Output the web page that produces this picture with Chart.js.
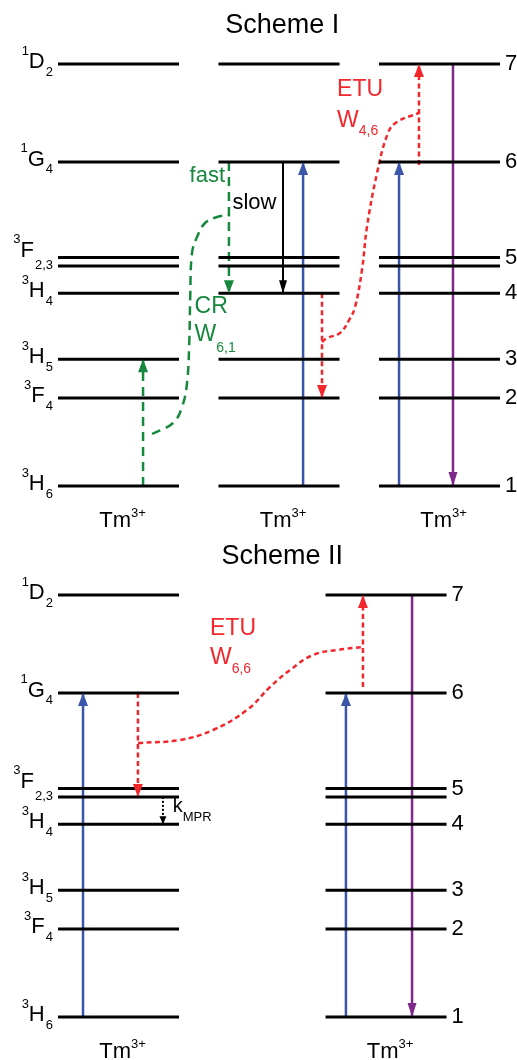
<!DOCTYPE html>
<html>
<head>
<meta charset="utf-8">
<script src="https://cdn.jsdelivr.net/npm/chart.js@4.4.0/dist/chart.umd.min.js"></script>
<style>
  html, body { margin: 0; padding: 0; background: #fff; }
  canvas { display: block; }
</style>
</head>
<body>
<canvas id="scheme1" width="517" height="531"></canvas>
<canvas id="scheme2" width="517" height="529"></canvas>
<script>
// Tm3+ levels, lowest first (energy in cm^-1)
const levelTerms = [['3', 'H', '6'], ['3', 'F', '4'], ['3', 'H', '5'], ['3', 'H', '4'], null, ['3', 'F', '2,3'], ['1', 'G', '4'], ['1', 'D', '2']];
const levelEnergy = [0, 5800, 8350, 12700, 14500, 15050, 21350, 27800];
const levelNumbers = ['1', '2', '3', '4', '', '5', '6', '7'];

// connector curves: [column position, energy]
const crPath = [[1.209, 3425], [1.340, 4150], [1.396, 5204], [1.427, 6785], [1.441, 9500], [1.447, 12500], [1.458, 15349], [1.489, 16403], [1.539, 17325], [1.614, 17721], [1.695, 17852]];
const etu46Path = [[2.268, 9486], [2.300, 9750], [2.380, 10079], [2.440, 11000], [2.474, 11792], [2.517, 14229], [2.548, 17062], [2.611, 20619], [2.679, 23254], [2.735, 23979], [2.872, 24572]];
const etu66Path = [[1.121, 18050], [1.383, 18248], [1.589, 18906], [1.801, 20224], [1.944, 21739], [2.069, 22859], [2.212, 23847], [2.361, 24176], [2.523, 24374]];

const GREEN = '#17883d', RED = '#f3262b', BLUE = '#3b55a8', PURPLE = '#7e2a8b', BLACK = '#000';
const HALF = 0.377;          // half width of a level bar, column units
const PX_PER_E = 0.01518;
const FONT = '"Liberation Sans", Arial, sans-serif';

function levelSegments(cols) {
	let pts = [];
	cols.forEach(c => {
		levelEnergy.forEach(e => {
			pts.push({x: c - HALF, y: e}, {x: c + HALF, y: e}, {x: c, y: null});
		});
	});
	return pts;
}

// from / to are level indices
function arrow(x, from, to, color, opts = {}) {
	return arrowE(x, levelEnergy[from], levelEnergy[to], color, opts);
}
// from / to given as energies
function arrowE(x, from, to, color, opts = {}) {
	return {
		data: [{x: x, y: from}, {x: x, y: to}],
		borderColor: color,
		borderWidth: opts.width || 2.5,
		borderDash: opts.dash || [],
		head: opts.head === undefined ? [13, 10] : opts.head,
	};
}

function curve(path, color, dash) {
	return {
		data: path.map(p => ({x: p[0], y: p[1]})),
		borderColor: color,
		borderWidth: 2.5,
		borderDash: dash,
		tension: 0.4,
		head: null,
	};
}

const arrowHeads = {
	id: 'arrowHeads',
	afterDatasetsDraw(chart) {
		const ctx = chart.ctx;
		chart.data.datasets.forEach((ds, i) => {
			if (!ds.head)
				return;
			const pts = chart.getDatasetMeta(i).data;
			const a = pts[pts.length - 2], b = pts[pts.length - 1];
			const ang = Math.atan2(b.y - a.y, b.x - a.x);
			const c = Math.cos(ang), s = Math.sin(ang);
			const L = ds.head[0], W = ds.head[1] / 2;
			ctx.save();
			ctx.fillStyle = ds.borderColor;
			ctx.beginPath();
			ctx.moveTo(b.x, b.y);
			ctx.lineTo(b.x - L * c - W * s, b.y - L * s + W * c);
			ctx.lineTo(b.x - L * c + W * s, b.y - L * s - W * c);
			ctx.closePath();
			ctx.fill();
			ctx.restore();
		});
	}
};

// draw runs of [text, size, dy] side by side
function rich(ctx, x, y, parts, align, color) {
	ctx.save();
	ctx.fillStyle = color || BLACK;
	ctx.textBaseline = 'middle';
	ctx.textAlign = 'left';
	let w = 0;
	parts.forEach(p => { ctx.font = p[1] + 'px ' + FONT; w += ctx.measureText(p[0]).width; });
	let cx = align === 'right' ? x - w : align === 'center' ? x - w / 2 : x;
	parts.forEach(p => {
		ctx.font = p[1] + 'px ' + FONT;
		ctx.fillText(p[0], cx, y + (p[2] || 0));
		cx += ctx.measureText(p[0]).width;
	});
	ctx.restore();
}

const schemeText = {
	id: 'schemeText',
	afterDraw(chart, args, o) {
		const ctx = chart.ctx;
		const xs = chart.scales.x, ys = chart.scales.y;
		const px = v => xs.getPixelForValue(v), py = v => ys.getPixelForValue(v);

		rich(ctx, px(2.02), 26, [[o.title, 27]], 'center');

		// term symbols left of first column
		const left = px(o.cols[0] - HALF) - 6;
		levelTerms.forEach((t, i) => {
			if (!t)
				return;
			let y = py(levelEnergy[i]) - 2;
			let subDy = 10;
			if (t[2] === '2,3') { y -= 5; subDy = 15; }
			ctx.font = '13px ' + FONT;
			const subW = ctx.measureText(t[2]).width;
			rich(ctx, left - subW, y, [[t[0], 13, -11], [t[1], 22, 0]], 'right');
			rich(ctx, left - subW + 1, y + subDy, [[t[2], 13]], 'left');
		});

		// level numbers right of last column
		const right = px(o.cols[o.cols.length - 1] + HALF) + 5;
		levelNumbers.forEach((n, i) => {
			if (n)
				rich(ctx, right, py(levelEnergy[i]), [[n, 22]], 'left');
		});

		// ion labels
		o.cols.forEach(c => {
			rich(ctx, px(c) + 4, py(0) + 35, [['Tm', 22, 0], ['3+', 13, -8]], 'center');
		});

		(o.notes || []).forEach(n => {
			rich(ctx, px(n.x), py(n.y), n.parts, n.align || 'left', n.color);
		});
	}
};

function makeScheme(id, cols, datasets, title, notes) {
	const canvas = document.getElementById(id);
	const h = canvas.height;
	return new Chart(canvas, {
		type: 'scatter',
		data: {
			datasets: [{
				data: levelSegments(cols),
				borderColor: BLACK,
				borderWidth: 3,
				spanGaps: false,
				head: null,
			}].concat(datasets).map(d => Object.assign({showLine: true, pointRadius: 0, pointHoverRadius: 0}, d)),
		},
		options: {
			responsive: false,
			animation: false,
			events: [],
			layout: { padding: 0 },
			scales: {
				x: { type: 'linear', display: false, min: 1 - 118.5 / 160.5, max: 1 + 398.5 / 160.5 },
				y: { type: 'linear', display: false, min: (486 - h) / PX_PER_E, max: 486 / PX_PER_E },
			},
			plugins: {
				legend: { display: false },
				tooltip: { enabled: false },
				schemeText: { title: title, cols: cols, notes: notes },
			},
		},
		plugins: [arrowHeads, schemeText],
	});
}

// Scheme I
makeScheme('scheme1', [1, 2, 3], [
	arrow(1.153, 0, 2, GREEN, {dash: [9, 6]}),
	curve(crPath, GREEN, [9, 6]),
	arrow(1.688, 6, 3, GREEN, {dash: [9, 6]}),
	arrow(2.025, 6, 3, BLACK, {width: 2, head: [13, 8]}),
	arrow(2.150, 0, 6, BLUE),
	arrow(2.268, 3, 1, RED, {dash: [5, 3.5]}),
	curve(etu46Path, RED, [5, 3.5]),
	arrowE(2.872, 21150, 27800, RED, {dash: [5, 3.5]}),
	arrow(2.748, 0, 6, BLUE),
	arrow(3.084, 7, 0, PURPLE, {head: [14, 9]}),
], 'Scheme I', [
	{x: 1.664, y: 20440, parts: [['fast', 22]], align: 'right', color: GREEN},
	{x: 1.710, y: 18660, parts: [['slow', 22]]},
	{x: 1.474, y: 11800, parts: [['CR', 23]], color: GREEN},
	{x: 1.474, y: 9950, parts: [['W', 23, 0], ['6,1', 14, 13]], color: GREEN},
	{x: 2.362, y: 26080, parts: [['ETU', 23]], color: RED},
	{x: 2.362, y: 24100, parts: [['W', 23, 0], ['4,6', 14, 11]], color: RED},
]);

// Scheme II
makeScheme('scheme2', [1, 2.667], [
	arrow(0.779, 0, 6, BLUE),
	arrow(1.121, 6, 4, RED, {dash: [5, 3.5]}),
	arrow(1.277, 4, 3, BLACK, {width: 2, dash: [2, 2], head: [8, 7]}),
	curve(etu66Path, RED, [5, 3.5]),
	arrowE(2.523, 21739, 27800, RED, {dash: [5, 3.5]}),
	arrow(2.417, 0, 6, BLUE),
	arrow(2.829, 7, 0, PURPLE, {head: [14, 9]}),
], 'Scheme II', [
	{x: 1.570, y: 25600, parts: [['ETU', 23]], color: RED},
	{x: 1.570, y: 23700, parts: [['W', 23, 0], ['6,6', 14, 12]], color: RED},
	{x: 1.338, y: 13860, parts: [['k', 20, 0], ['MPR', 13, 11]]},
]);
</script>
</body>
</html>
